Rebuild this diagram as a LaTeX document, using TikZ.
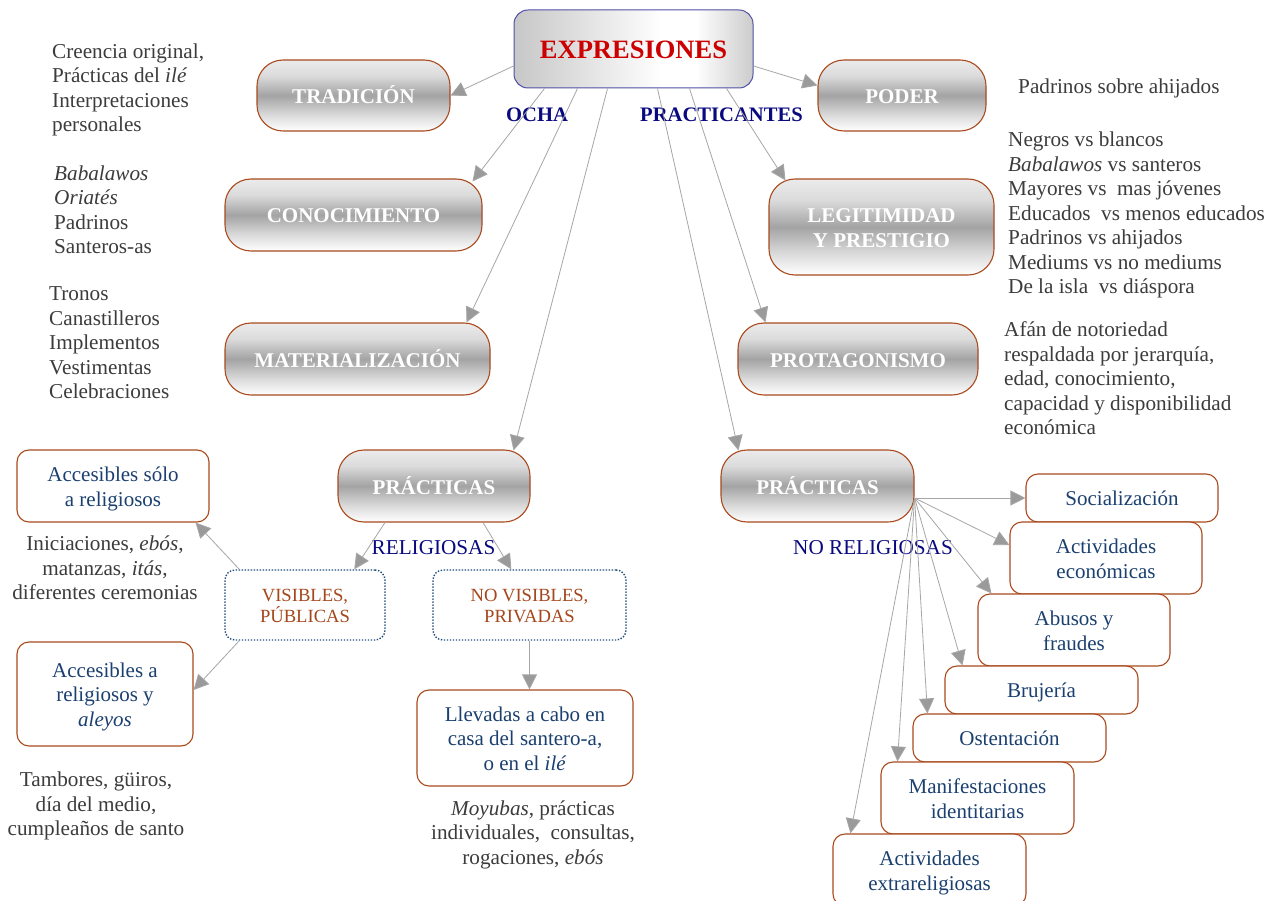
\documentclass[tikz,border=0pt]{standalone}
\usepackage{fontspec}
\setmainfont{Liberation Serif}
\usetikzlibrary{arrows.meta,calc}

\definecolor{txtgray}{HTML}{3C3C3C}
\definecolor{boxblue}{HTML}{1B4070}
\definecolor{labnavy}{HTML}{0A0A80}
\definecolor{rusttext}{HTML}{A4471C}
\definecolor{rim}{HTML}{AA4A1C}
\definecolor{dotblue}{HTML}{1F4E79}
\definecolor{exprrim}{HTML}{5050A8}
\definecolor{exprred}{HTML}{CC0000}
\definecolor{linkgray}{HTML}{A6A6A6}
\definecolor{tipgray}{HTML}{9A9A9A}

% metallic band for the category pills (white edges, grey middle)
\pgfdeclareverticalshading{pillshade}{100bp}{color(0bp)=(white); color(25bp)=(white); color(36bp)=(black!14); color(50bp)=(black!36); color(64bp)=(black!14); color(75bp)=(black!8); color(100bp)=(black!8)}
% horizontal sheen for the title box
\pgfdeclarehorizontalshading{exprshade}{100bp}{color(0bp)=(black!22); color(25bp)=(black!22); color(56bp)=(white); color(63bp)=(white); color(75bp)=(black!20); color(100bp)=(black!20)}

% line strut: exactly one baselineskip per line
\newcommand\ls{\vrule height .82\baselineskip depth .18\baselineskip width 0pt\relax}
\newcommand\lnbr{\\\ls}
\newcommand\fsz[2]{\fontsize{#1}{#2}\selectfont\lineskiplimit=-50pt\lineskip=0pt\relax}

\tikzset{
  expr/.style={draw=exprrim, line width=1pt, rounded corners=14pt, shading=exprshade,
    text=exprred, font=\bfseries\fsz{26.5}{30}, align=center, inner sep=0pt,
    minimum width=239pt, minimum height=78pt},
  pill/.style={draw=rim, line width=1.1pt, rounded corners=26pt, shading=pillshade,
    text=white, font=\bfseries\fsz{21}{25}, align=center, inner sep=0pt},
  cbox/.style={draw=rim, line width=1.1pt, rounded corners=12pt, fill=white,
    text=boxblue, font=\fsz{21}{24.5}, align=center, inner sep=0pt},
  dbox/.style={draw=dotblue, line width=1.4pt, dash pattern=on 1.4pt off 1.6pt, rounded corners=10pt,
    text=rusttext, font=\fsz{18.6}{21.7}, align=center, inner sep=0pt},
  lab/.style={text=labnavy, inner sep=0pt},
  note/.style={text=txtgray, font=\fsz{21.2}{24.5}, inner sep=0pt},
  link/.style={draw=linkgray, line width=0.8pt,
    -{Triangle[length=15pt,width=15pt,fill=tipgray]}},
  sz/.style 2 args={minimum width=#1pt, minimum height=#2pt}
}

\begin{document}
\begin{tikzpicture}[x=1pt,y=-1pt]
\useasboundingbox (0,0) rectangle (1276,901);
\clip (0,0) rectangle (1276,901);
\fill[white] (0,0) rectangle (1276,901);

% ---------- title and the two groups of categories ----------
\node[expr] (expr) at (633.5,49) {\ls EXPRESIONES};

\node[pill, sz={193}{71}] (trad)  at (353.5,95.5) {\ls TRADICIÓN};
\node[pill, sz={257}{72}] (conoc) at (353.5,215)  {\ls CONOCIMIENTO};
\node[pill, sz={265}{72}] (mat)   at (357.5,359)  {\ls MATERIALIZACIÓN};
\node[pill, sz={192}{72}] (pracL) at (434,486)    {\ls PRÁCTICAS};

\node[pill, sz={168}{71}] (poder) at (902,95.5)   {\ls PODER};
\node[pill, sz={225}{96}] (legit) at (881.5,227)  {\ls LEGITIMIDAD\lnbr Y PRESTIGIO};
\node[pill, sz={240}{72}] (prota) at (858,359)    {\ls PROTAGONISMO};
\node[pill, sz={193}{72}] (pracR) at (817.5,486)  {\ls PRÁCTICAS};

\node[lab, font=\bfseries\fsz{20.6}{24}] (ocha) at (537,114) {\ls OCHA};
\node[lab, font=\bfseries\fsz{20.6}{24}] (pract) at (721.5,114) {\ls PRACTICANTES};
\node[lab, font=\fsz{21.2}{24.5}] (relig) at (433.5,547) {\ls RELIGIOSAS};
\node[lab, font=\fsz{21.2}{24.5}] (norelig) at (873,547) {\ls NO RELIGIOSAS};

% ---------- religious practices ----------
\node[dbox, sz={160}{70}] (vis)   at (305,605)   {\ls VISIBLES,\lnbr PÚBLICAS};
\node[dbox, sz={193}{70}] (novis) at (529.5,605) {\ls NO VISIBLES,\lnbr PRIVADAS};

\node[cbox, sz={192}{72}]  (acc1) at (113,486) {\ls Accesibles sólo\lnbr a religiosos};
\node[cbox, sz={176}{104}] (acc2) at (105,694) {\ls Accesibles a\lnbr religiosos y\lnbr \textit{aleyos}};
\node[cbox, sz={216}{96}]  (llev) at (525,738) {\ls Llevadas a cabo en\lnbr casa del santero-a,\lnbr o en el \textit{ilé}};

% ---------- non-religious practices (staircase) ----------
\node[cbox, sz={192}{48}] (soc)   at (1122,498)   {\ls Socialización};
\node[cbox, sz={192}{72}] (econ)  at (1106,558)   {\ls Actividades\lnbr económicas};
\node[cbox, sz={192}{72}] (abus)  at (1074,630)   {\ls Abusos y\lnbr fraudes};
\node[cbox, sz={193}{48}] (bruj)  at (1041.5,690) {\ls Brujería};
\node[cbox, sz={193}{48}] (osten) at (1009.5,738) {\ls Ostentación};
\node[cbox, sz={193}{72}] (manif) at (977.5,798)  {\ls Manifestaciones\lnbr identitarias};
\node[cbox, sz={193}{72}] (extra) at (929.5,870)  {\ls Actividades\lnbr extrareligiosas};

% ---------- explanatory texts ----------
\node[note, anchor=north west, align=left] (n1) at (52,38.2)
  {\ls Creencia original,\lnbr Prácticas del \textit{ilé}\lnbr Interpretaciones\lnbr personales};
\node[note, anchor=north west, align=left] (n2) at (54,159.9)
  {\ls \textit{Babalawos}\lnbr \textit{Oriatés}\lnbr Padrinos\lnbr Santeros-as};
\node[note, anchor=north west, align=left] (n3) at (49,280.6)
  {\ls Tronos\lnbr Canastilleros\lnbr Implementos\lnbr Vestimentas\lnbr Celebraciones};
\node[note, anchor=north west, align=left] (n4) at (1018,73.4)
  {\ls Padrinos sobre ahijados};
\node[note, anchor=north west, align=left] (n5) at (1008,126.6)
  {\ls Negros vs blancos\lnbr \textit{Babalawos} vs santeros\lnbr Mayores vs\ \ mas jóvenes\lnbr
   Educados\ \ vs menos educados\lnbr Padrinos vs ahijados\lnbr Mediums vs no mediums\lnbr
   De la isla\ \ vs diáspora};
\node[note, anchor=north west, align=left] (n6) at (1004,316.6)
  {\ls Afán de notoriedad\lnbr respaldada por jerarquía,\lnbr edad, conocimiento,\lnbr
   capacidad y disponibilidad\lnbr económica};
\node[note, anchor=north, align=center] (n7) at (105,530.5)
  {\ls Iniciaciones, \textit{ebós},\lnbr matanzas, \textit{itás},\lnbr diferentes ceremonias};
\node[note, anchor=north, align=center] (n8) at (96,766.6)
  {\ls Tambores, güiros,\lnbr día del medio,\lnbr cumpleaños de santo};
\node[note, anchor=north, align=center] (n9) at (533,794.9)
  {\ls \textit{Moyubas}, prácticas\lnbr individuales,\ \ consultas,\lnbr rogaciones, \textit{ebós}};

% ---------- connectors ----------
\draw[link] ($(expr.west)+(0,17)$) -- (trad.east);
\draw[link] ($(expr.south west)+(31,0)$)  -- ($(conoc.north east)+(-10,3)$);
\draw[link] ($(expr.south west)+(64,0)$)  -- ($(mat.north east)+(-24,0)$);
\draw[link] ($(expr.south west)+(94,0)$)  -- ($(pracL.north east)+(-17,1)$);
\draw[link] ($(expr.east)+(0,17)$) -- ($(poder.west)+(0,-10)$);
\draw[link] ($(expr.south west)+(144,0)$) -- ($(pracR.north west)+(18,1)$);
\draw[link] ($(expr.south west)+(176,0)$) -- ($(prota.north west)+(28,0)$);
\draw[link] ($(expr.south west)+(213,0)$) -- ($(legit.north west)+(17,2)$);

\draw[link] ($(pracL.south)+(-49,0)$) -- ($(vis.north west)+(130,0)$);
\draw[link] ($(pracL.south)+(49,0)$)  -- ($(novis.north west)+(79,0)$);

\draw[link] ($(vis.north west)+(15,0)$) -- ($(acc1.south east)+(-14,0)$);
\draw[link] ($(vis.south west)+(15,0)$) -- ($(acc2.east)+(0,-4)$);
\draw[link] (novis.south) -- (novis.south |- llev.north);

\coordinate (src) at ($(pracR.east)+(0,12)$);
\draw[link] (src) -- (soc.west);
\draw[link] (src) -- ($(econ.west)+(0,-13)$);
\draw[link] (src) -- ($(abus.north west)+(14,0)$);
\draw[link] (src) -- ($(bruj.north west)+(18,0)$);
\draw[link] (src) -- ($(osten.north west)+(15,0)$);
\draw[link] (src) -- ($(manif.north west)+(17,0)$);
\draw[link] (src) -- ($(extra.north west)+(18,0)$);
\end{tikzpicture}
\end{document}
